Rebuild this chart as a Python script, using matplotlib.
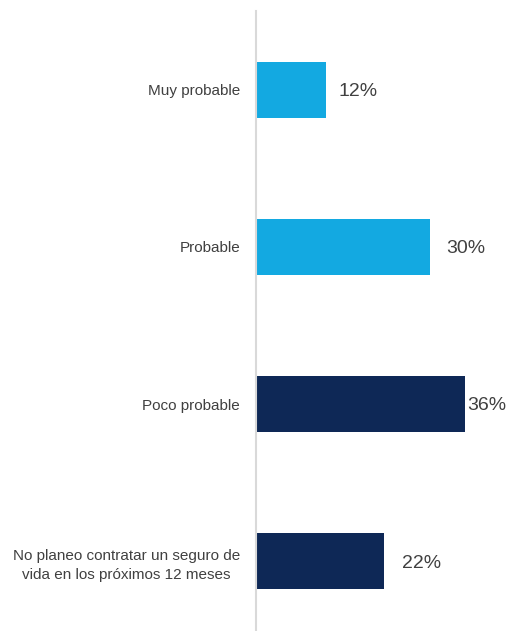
import matplotlib.pyplot as plt

plt.rcParams['font.family'] = ['Liberation Sans', 'DejaVu Sans']

# data
categories = ['Muy probable', 'Probable', 'Poco probable',
              'No planeo contratar un seguro de\nvida en los próximos 12 meses']
values = [12, 30, 36, 22]
colors = ['#13A9E1', '#13A9E1', '#0E2856', '#0E2856']
label_pad = [13, 16, 2, 18]  # px gap between bar end and value label

fig = plt.figure(figsize=(5.08, 6.31), dpi=100)
ax = fig.add_axes([256 / 508, -9 / 631, 232 / 508, 629 / 631])

y = list(range(len(categories)))
ax.barh(y, values, height=0.356, color=colors)
ax.set_ylim(len(categories) - 0.5, -0.5)
ax.set_xlim(0, 40)

for yi, v, pad in zip(y, values, label_pad):
    ax.annotate(f'{v}%', (v, yi), xytext=(pad * 0.72, -1.2), textcoords='offset points',
                ha='left', va='center', fontsize=14, color='#404040')

ax.set_yticks(y)
ax.set_yticklabels(categories, fontsize=11, color='#404040',
                   multialignment='center', linespacing=1.5)
ax.tick_params(axis='y', length=0, pad=11.5)
ax.set_xticks([])

for s in ['top', 'right', 'bottom']:
    ax.spines[s].set_visible(False)
ax.spines['left'].set_color('#D9D9D9')
ax.spines['left'].set_linewidth(1.5)

fig.savefig('out.png', dpi=100)
